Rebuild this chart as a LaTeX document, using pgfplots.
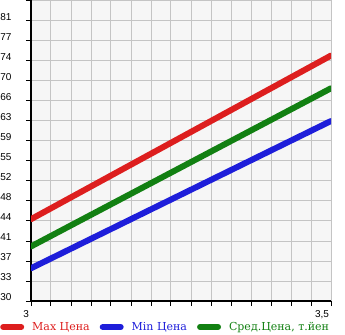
\documentclass[border=0pt]{standalone}
\usepackage{pgfplots}
\pgfplotsset{compat=1.18}
\usepackage{fontspec}
\setmainfont{DejaVu Serif}
\newfontfamily\tickfont{Liberation Sans}
\definecolor{cmax}{RGB}{221,30,30}
\definecolor{cmin}{RGB}{30,30,218}
\definecolor{cavg}{RGB}{18,128,18}
\definecolor{bgc}{RGB}{246,246,246}
\definecolor{gridc}{RGB}{196,196,196}
\begin{document}
\begin{tikzpicture}
\begin{axis}[
  scale only axis, width=300bp, height=301bp,
  xmin=3, xmax=3.5, ymin=30, ymax=85.1833,
  axis background/.style={fill=bgc},
  axis x line=bottom, axis y line=left,
  axis line style={line width=2bp,-},
  xtick={3,3.5}, xticklabels={3,{3,5}},
  minor xtick={3.03333,3.06667,3.1,3.13333,3.16667,3.2,3.23333,3.26667,3.3,3.33333,3.36667,3.4,3.43333,3.46667},
  ytick={30,33.6667,37.3333,41,44.6667,48.3333,52,55.6667,59.3333,63,66.6667,70.3333,74,77.6667,81.3333},
  yticklabels={30,33,37,41,44,48,52,55,59,63,66,70,74,77,81},
  minor ytick={85},
  grid=both,
  major grid style={gridc, line width=1bp},
  minor grid style={gridc, line width=1bp},
  tick style={black, line width=1bp},
  major tick length=5bp, minor tick length=5bp,
  tick align=outside,
  xticklabel style={font=\tickfont\fontsize{10bp}{11bp}\selectfont, anchor=north east, xshift=1.5bp, yshift=-1bp},
  yticklabel style={font=\tickfont\fontsize{10bp}{11bp}\selectfont, yshift=4bp, xshift=-11bp},
  legend columns=3,
  legend style={at={(-0.1033,-0.0864)}, anchor=west, draw=none, fill=none, inner sep=0pt,
    font=\fontsize{11bp}{13bp}\selectfont,
    /tikz/every odd column/.append style={column sep=6bp},
    /tikz/every even column/.append style={column sep=8bp}},
  legend image code/.code={\draw[line width=6bp, line cap=round] (3bp,0) -- (21bp,0);},
]
\addplot[cmax, line width=6bp, line cap=round] coordinates {(3,45) (3.5,75)};
\addlegendentry{\textcolor{cmax}{Max Цена}}
\addplot[cmin, line width=6bp, line cap=round] coordinates {(3,36) (3.5,63)};
\addlegendentry{\textcolor{cmin}{Min Цена}}
\addplot[cavg, line width=6bp, line cap=round] coordinates {(3,40) (3.5,69)};
\addlegendentry{\textcolor{cavg}{Сред.Цена, т.йен}}
\coordinate (bl) at (rel axis cs:0,0);
\end{axis}
\pgfresetboundingbox
\path ([shift={(-31bp,-34bp)}]bl) rectangle ([shift={(314bp,301bp)}]bl);
\end{tikzpicture}
\end{document}
